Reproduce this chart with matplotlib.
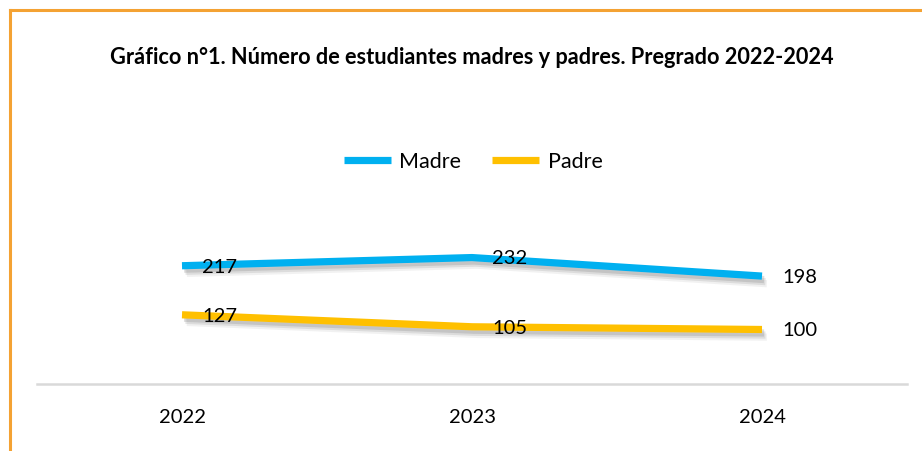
import matplotlib
matplotlib.use("Agg")
import matplotlib.pyplot as plt
import matplotlib.patheffects as pe
from matplotlib.lines import Line2D

# data
years = ["2022", "2023", "2024"]
madre = [217, 232, 198]
padre = [127, 105, 100]

W, H = 922, 451
fig = plt.figure(figsize=(W / 100, H / 100), dpi=100)
plt.rcParams["font.family"] = ["Lato", "DejaVu Sans"]

# plot area in pixel coordinates
left, right, bottom, top = 37, 907, 384, 100
ax = fig.add_axes([left / W, 1 - bottom / H, (right - left) / W, (bottom - top) / H])

x = list(range(len(years)))

shadow = [
    pe.SimpleLineShadow(offset=(1.5, -2.5), shadow_color="#7f7f7f", alpha=0.25),
    pe.SimpleLineShadow(offset=(2.5, -4), shadow_color="#7f7f7f", alpha=0.18),
    pe.SimpleLineShadow(offset=(3.5, -5.5), shadow_color="#7f7f7f", alpha=0.10),
    pe.Normal(),
]

ax.plot(x, madre, color="#00B0F0", lw=5.2, solid_capstyle="butt",
        label="Madre", path_effects=shadow, zorder=3)
ax.plot(x, padre, color="#FFC000", lw=5.2, solid_capstyle="butt",
        label="Padre", path_effects=shadow, zorder=3)

for series in (madre, padre):
    for xi, v in zip(x, series):
        ax.annotate(str(v), (xi, v), xytext=(27, -1), textcoords="offset points",
                    ha="center", va="center", fontsize=14.5, color="#000000", zorder=4)

ax.set_xlim(-0.5, len(years) - 0.5)
ax.set_ylim(0, (bottom - top) / 0.545)
ax.set_xticks(x)
ax.set_xticklabels(years, fontsize=14.5)
ax.set_yticks([])
ax.tick_params(axis="x", length=0, pad=18)
for s in ["top", "right", "left"]:
    ax.spines[s].set_visible(False)
ax.spines["bottom"].set_color("#D9D9D9")
ax.spines["bottom"].set_linewidth(1.8)

fig.text(472 / W, 1 - 57 / H,
         "Gráfico n°1. Número de estudiantes madres y padres. Pregrado 2022-2024",
         ha="center", va="center", fontsize=15.7, fontweight="bold")

leg = fig.legend(loc="center", bbox_to_anchor=(473 / W, 1 - 162 / H), ncol=2,
                 frameon=False, fontsize=15.5, handlelength=2.2, columnspacing=1.4,
                 handletextpad=0.4)
for h in leg.legend_handles:
    h.set_path_effects([])
    h.set_linewidth(5.2)

# orange frame (top and left)
frame = "#F4A233"
fig.add_artist(Line2D([10 / W, 1], [1 - 10 / H, 1 - 10 / H], color=frame, lw=2.2,
                      transform=fig.transFigure))
fig.add_artist(Line2D([10 / W, 10 / W], [1 - 10 / H, 0], color=frame, lw=2.2,
                      transform=fig.transFigure))

fig.savefig("out.png", dpi=100)
